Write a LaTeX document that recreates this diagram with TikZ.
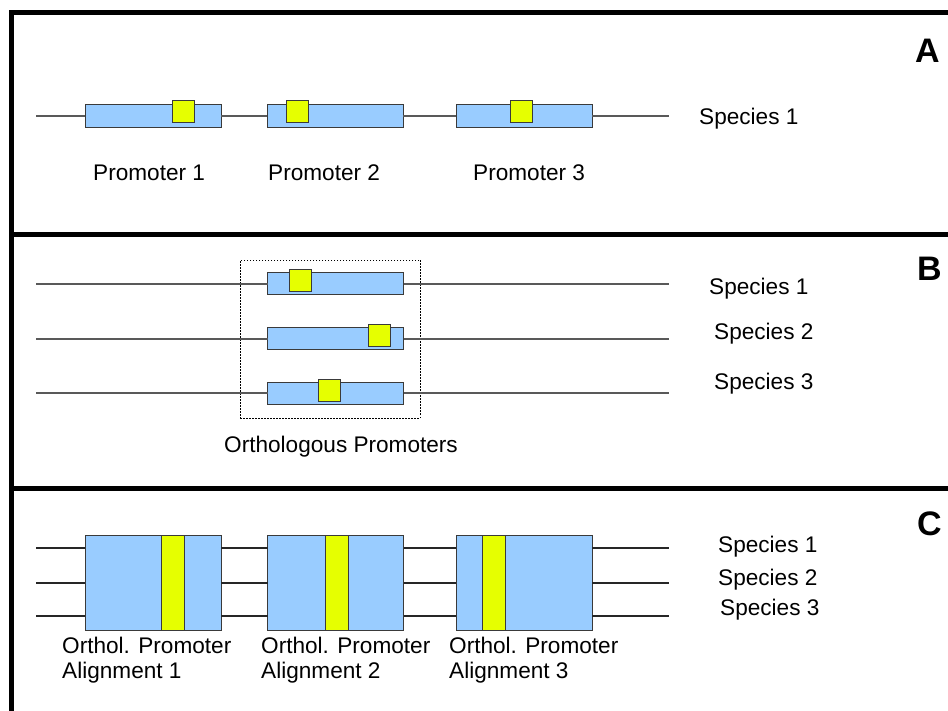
\documentclass[tikz,border=0pt]{standalone}
\usepackage{fontspec}
\setmainfont{Liberation Sans}
\definecolor{pblue}{HTML}{99CCFF}
\definecolor{pyellow}{HTML}{E6FF00}
\definecolor{edge}{HTML}{3A3A3A}
\begin{document}
\begin{tikzpicture}[x=1pt,y=-1pt,
  frame/.style={line width=5pt,black},
  dnaA/.style={line width=1.3pt,black!65},
  dnaC/.style={line width=1.3pt,black!85},
  pbox/.style={draw=edge,line width=1pt,fill=pblue,minimum width=136pt,minimum height=23pt,inner sep=0pt,outer sep=0pt},
  ysq/.style={draw=edge,line width=1pt,fill=pyellow,minimum width=22pt,minimum height=22pt,inner sep=0pt,outer sep=0pt},
  abox/.style={draw=edge,line width=1pt,fill=pblue,minimum width=136pt,minimum height=95pt,inner sep=0pt,outer sep=0pt},
  ybar/.style={draw=edge,line width=1pt,fill=pyellow,minimum width=23pt,minimum height=95pt,inner sep=0pt,outer sep=0pt},
  lbl/.style={font=\fontsize{22.6}{25}\selectfont,inner sep=0pt,anchor=base west},
  captxt/.style={font=\fontsize{22.6}{25}\selectfont,inner sep=0pt,anchor=north west,align=left},
  tag/.style={font=\fontsize{34}{38}\selectfont\bfseries,inner sep=0pt,anchor=base west},
  grp/.style={draw=black,line width=0.8pt,dash pattern=on 1.5pt off 1.5pt}
]
\useasboundingbox (0,0) rectangle (948,711);

% frame and dividers
\coordinate (fTR) at (948,12.5);
\coordinate (fTL) at (11.5,12.5);
\coordinate (fBL) at (11.5,711);
\coordinate (d1L) at (11.5,234.5);
\coordinate (d1R) at (948,234.5);
\coordinate (d2L) at (11.5,488);
\coordinate (d2R) at (948,488);
\draw[frame] (fTR) -- (fTL) -- (fBL);
\draw[frame] (d1L) -- (d1R);
\draw[frame] (d2L) -- (d2R);

% ---------------- Panel A ----------------
\coordinate (aL) at (36,116);
\coordinate (aR) at (669,116);
\node[pbox] (a1) at (153,116) {};
\node[pbox] (a2) at (335,116) {};
\node[pbox] (a3) at (524,116) {};
\draw[dnaA] (aL) -- (a1);
\draw[dnaA] (a1) -- (a2);
\draw[dnaA] (a2) -- (a3);
\draw[dnaA] (a3) -- (aR);
\node[ysq] (a1y) at (183,112) {};
\node[ysq] (a2y) at (297,112) {};
\node[ysq] (a3y) at (521.5,112) {};
\node[lbl] (aS1) at (699,125) {Species 1};
\node[lbl] (aP1) at (93,181) {Promoter 1};
\node[lbl] (aP2) at (268,181) {Promoter 2};
\node[lbl] (aP3) at (473,181) {Promoter 3};
\node[tag] (tA) at (915,63) {A};

% ---------------- Panel B ----------------
\node[grp,minimum width=180pt,minimum height=158pt,inner sep=0pt] (bgrp) at (330,339) {};
\coordinate (bL1) at (36,284);
\coordinate (bR1) at (669,284);
\coordinate (bL2) at (36,339);
\coordinate (bR2) at (669,339);
\coordinate (bL3) at (36,393);
\coordinate (bR3) at (669,393);
\node[pbox,minimum height=22pt] (b1) at (335.5,284) {};
\node[pbox,minimum height=22pt] (b2) at (335.5,339) {};
\node[pbox,minimum height=22pt] (b3) at (335.5,393) {};
\draw[dnaA] (bL1) -- (b1);
\draw[dnaA] (b1) -- (bR1);
\draw[dnaA] (bL2) -- (b2);
\draw[dnaA] (b2) -- (bR2);
\draw[dnaA] (bL3) -- (b3);
\draw[dnaA] (b3) -- (bR3);
\node[ysq] (b1y) at (300.5,281) {};
\node[ysq] (b2y) at (379,336) {};
\node[ysq] (b3y) at (329,390) {};
\node[lbl] (bS1) at (709,295) {Species 1};
\node[lbl] (bS2) at (714,340) {Species 2};
\node[lbl] (bS3) at (714,389) {Species 3};
\node[lbl] (bOP) at (224,452) {Orthologous Promoters};
\node[tag] (tB) at (917,281) {B};

% ---------------- Panel C ----------------
\coordinate (cL1) at (36,548);
\coordinate (cR1) at (669,548);
\coordinate (cL2) at (36,583);
\coordinate (cR2) at (669,583);
\coordinate (cL3) at (36,616);
\coordinate (cR3) at (669,616);
\node[abox] (c1) at (153,582.5) {};
\node[abox] (c2) at (335.5,582.5) {};
\node[abox] (c3) at (524,582.5) {};
\foreach \r in {1,2,3}{
  \draw[dnaC] (cL\r) -- (c1.west |- cL\r);
  \draw[dnaC] (c1.east |- cL\r) -- (c2.west |- cL\r);
  \draw[dnaC] (c2.east |- cL\r) -- (c3.west |- cL\r);
  \draw[dnaC] (c3.east |- cL\r) -- (cR\r);
}
\node[ybar] (c1y) at (172.5,582.5) {};
\node[ybar] (c2y) at (336.5,582.5) {};
\node[ybar] (c3y) at (493.5,582.5) {};
\node[lbl] (cS1) at (718,552) {Species 1};
\node[lbl] (cS2) at (718,585) {Species 2};
\node[lbl] (cS3) at (720,615) {Species 3};
\node[captxt] (cA1) at (62,637) {Orthol. Promoter\\Alignment 1};
\node[captxt] (cA2) at (261,637) {Orthol. Promoter\\Alignment 2};
\node[captxt] (cA3) at (449,637) {Orthol. Promoter\\Alignment 3};
\node[tag] (tC) at (917,535) {C};
\end{tikzpicture}
\end{document}
